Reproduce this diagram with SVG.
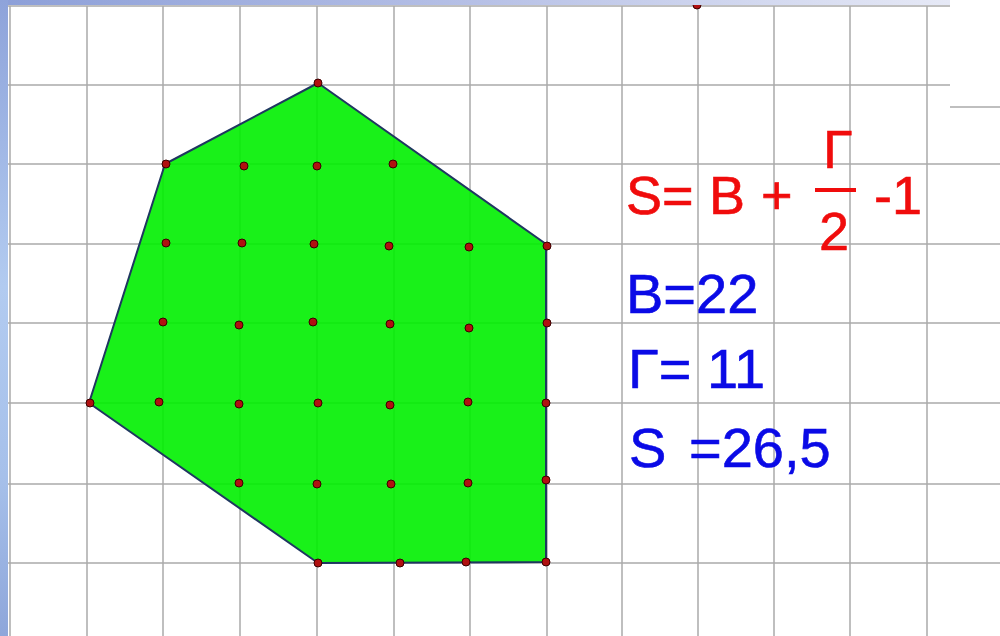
<svg xmlns="http://www.w3.org/2000/svg" width="1000" height="636" viewBox="0 0 1000 636">
<defs>
<linearGradient id="topStrip" x1="0" y1="0" x2="1" y2="0">
<stop offset="0" stop-color="#8c9fd8"/>
<stop offset="0.5" stop-color="#b6c0e6"/>
<stop offset="1" stop-color="#e6e9f6"/>
</linearGradient>
<linearGradient id="leftStrip" x1="0" y1="0" x2="0" y2="1">
<stop offset="0" stop-color="#8ea3da"/>
<stop offset="0.45" stop-color="#b2cbf0"/>
<stop offset="0.75" stop-color="#a6c0ea"/>
<stop offset="1" stop-color="#8ea6da"/>
</linearGradient>
</defs>
<style>
.g{stroke:#aaaaaa;stroke-width:1.5;fill:none}
.pt{fill:#b01010;stroke:#3a0000;stroke-width:1}
.red{fill:#f00c0c;stroke:#f00c0c;stroke-width:0.6;font-family:"Liberation Sans",Arial,sans-serif;font-size:54px}
.blue{fill:#0a0ae6;stroke:#0a0ae6;stroke-width:0.6;font-family:"Liberation Sans",Arial,sans-serif;font-size:56px}
</style>
<rect x="0" y="0" width="1000" height="636" fill="#ffffff"/>
<g id="grid">
<path class="g" d="M10 6V636M87 6V636M163 6V636M240 6V636M317 6V636M394 6V636M470 6V636M547 6V636M622 6V636M698 6V636M774 6V636M850 6V636M927 6V636"/>
<path class="g" d="M8 6H950M8 85H950M950 107H1000M8 164H1000M8 244H1000M8 323H1000M8 403H1000M8 484H1000M8 563H1000"/>
</g>
<g id="polygon">
<polygon points="318,83 546,244 546,562 318,563 89,403 165,164" fill="#00f000" fill-opacity="0.9" stroke="#1f3760" stroke-width="2" stroke-linejoin="round"/>
</g>
<g id="points">
<circle class="pt" cx="318" cy="83" r="4"/>
<circle class="pt" cx="166" cy="164" r="4"/>
<circle class="pt" cx="244" cy="166" r="4"/>
<circle class="pt" cx="317" cy="166" r="4"/>
<circle class="pt" cx="393" cy="164" r="4"/>
<circle class="pt" cx="166" cy="243" r="4"/>
<circle class="pt" cx="242" cy="243" r="4"/>
<circle class="pt" cx="314" cy="244" r="4"/>
<circle class="pt" cx="389" cy="246" r="4"/>
<circle class="pt" cx="469" cy="247" r="4"/>
<circle class="pt" cx="547" cy="246" r="4"/>
<circle class="pt" cx="163" cy="322" r="4"/>
<circle class="pt" cx="239" cy="325" r="4"/>
<circle class="pt" cx="313" cy="322" r="4"/>
<circle class="pt" cx="390" cy="324" r="4"/>
<circle class="pt" cx="469" cy="328" r="4"/>
<circle class="pt" cx="547" cy="323" r="4"/>
<circle class="pt" cx="90" cy="403" r="4"/>
<circle class="pt" cx="159" cy="402" r="4"/>
<circle class="pt" cx="239" cy="404" r="4"/>
<circle class="pt" cx="318" cy="403" r="4"/>
<circle class="pt" cx="390" cy="405" r="4"/>
<circle class="pt" cx="468" cy="402" r="4"/>
<circle class="pt" cx="546" cy="403" r="4"/>
<circle class="pt" cx="239" cy="483" r="4"/>
<circle class="pt" cx="317" cy="484" r="4"/>
<circle class="pt" cx="391" cy="484" r="4"/>
<circle class="pt" cx="468" cy="483" r="4"/>
<circle class="pt" cx="546" cy="480" r="4"/>
<circle class="pt" cx="318" cy="563" r="4"/>
<circle class="pt" cx="400" cy="563" r="4"/>
<circle class="pt" cx="466" cy="562" r="4"/>
<circle class="pt" cx="546" cy="562" r="4"/>
<circle class="pt" cx="697" cy="5" r="4"/>
</g>
<g id="frame">
<rect x="0" y="0" width="950" height="5" fill="url(#topStrip)"/>
<rect x="0" y="0" width="8" height="636" fill="url(#leftStrip)"/>
</g>
<g id="formula">
<text class="red" x="626" y="214">S=</text>
<text class="red" x="709" y="214">B</text>
<text class="red" x="761" y="214">+</text>
<text class="red" x="823" y="168">Γ</text>
<rect x="815" y="188" width="41" height="4" fill="#f00c0c"/>
<text class="red" x="819" y="250" font-size="58">2</text>
<text class="red" x="874" y="214">-1</text>
</g>
<g id="values">
<text class="blue" x="626" y="313">B=22</text>
<text class="blue" x="628" y="388">Γ= 11</text>
<text class="blue" x="629" y="467">S</text>
<text class="blue" x="689" y="467">=26,5</text>
</g>
</svg>
